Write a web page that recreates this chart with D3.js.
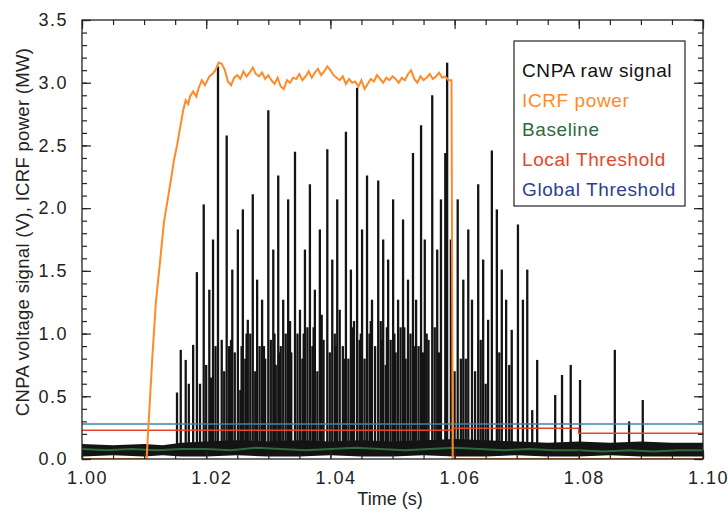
<!DOCTYPE html>
<html>
<head>
<meta charset="utf-8">
<script src="https://cdn.jsdelivr.net/npm/d3@7.9.0/dist/d3.min.js"></script>
<style>
  body { margin: 0; background: #fff; }
  svg text { font-family: "Liberation Sans", Arial, Helvetica, sans-serif; }
</style>
</head>
<body>
<svg id="chart" width="728" height="519"></svg>
<script>
// ICRF power (MW)
const icrfTime = [1.0000, 1.0104, 1.0113, 1.0119, 1.0126, 1.0132, 1.0138, 1.0143, 1.0148, 1.0153, 1.0158,
  1.0163, 1.0167, 1.0171, 1.0174, 1.0179, 1.0184, 1.0188, 1.0193, 1.0198,
  1.0200, 1.0205, 1.0210, 1.0215, 1.0220, 1.0225, 1.0230, 1.0235, 1.0240, 1.0245,
  1.0250, 1.0255, 1.0260, 1.0265, 1.0270, 1.0275, 1.0280, 1.0285, 1.0290, 1.0295,
  1.0300, 1.0305, 1.0310, 1.0315, 1.0320, 1.0325, 1.0330, 1.0335, 1.0340, 1.0345,
  1.0350, 1.0355, 1.0360, 1.0365, 1.0370, 1.0375, 1.0380, 1.0385, 1.0390, 1.0395,
  1.0400, 1.0405, 1.0410, 1.0415, 1.0420, 1.0425, 1.0430, 1.0435, 1.0440, 1.0445,
  1.0450, 1.0455, 1.0460, 1.0465, 1.0470, 1.0475, 1.0480, 1.0485, 1.0490, 1.0495,
  1.0500, 1.0505, 1.0510, 1.0515, 1.0520, 1.0525, 1.0530, 1.0535, 1.0540, 1.0545,
  1.0550, 1.0555, 1.0560, 1.0565, 1.0570, 1.0575, 1.0580, 1.0585, 1.0590, 1.0595,
  1.0597, 1.1000];
const icrfPower = [0.00, 0.00, 0.79, 1.25, 1.59, 1.89, 2.07, 2.22, 2.38, 2.50, 2.64,
  2.78, 2.86, 2.83, 2.89, 2.93, 2.89, 2.96, 3.02, 2.98,
  3.00, 3.05, 3.07, 3.10, 3.16, 3.15, 3.10, 3.01, 2.98, 3.04,
  3.06, 3.03, 3.09, 3.05, 3.08, 3.12, 3.07, 3.05, 3.08, 3.03,
  3.06, 3.02, 2.99, 3.04, 2.97, 2.95, 3.02, 3.00, 3.04, 3.03,
  3.07, 3.02, 3.05, 3.09, 3.04, 3.08, 3.11, 3.06, 3.09, 3.13,
  3.10, 3.06, 3.04, 3.02, 3.05, 2.99, 3.03, 3.00, 3.01, 2.97,
  3.02, 2.95, 2.99, 3.03, 3.01, 3.06, 3.03, 3.00, 3.04, 3.02,
  3.05, 3.03, 3.00, 3.04, 3.02, 3.07, 3.10, 3.03, 3.00, 3.05,
  3.02, 3.04, 3.07, 3.03, 3.05, 3.08, 3.04, 3.05, 3.02, 3.02,
  0.00, 0.00];

// CNPA raw signal: tall spikes (time, peak volts)
const spikeTime = [1.0153, 1.0159, 1.0167, 1.0179, 1.0185, 1.0190, 1.0196, 1.0200, 1.0205, 1.0211, 1.0215, 1.0219,
  1.0225, 1.0229, 1.0233, 1.0237, 1.0242, 1.0246, 1.0251, 1.0255, 1.0259, 1.0263, 1.0267, 1.0271,
  1.0275, 1.0279, 1.0282, 1.0286, 1.0290, 1.0295, 1.0300, 1.0304, 1.0308, 1.0312, 1.0316, 1.0320,
  1.0324, 1.0328, 1.0332, 1.0337, 1.0343, 1.0347, 1.0351, 1.0355, 1.0359, 1.0363, 1.0367, 1.0371,
  1.0375, 1.0379, 1.0383, 1.0389, 1.0395, 1.0399, 1.0403, 1.0407, 1.0411, 1.0415, 1.0420, 1.0425,
  1.0429, 1.0433, 1.0438, 1.0443, 1.0447, 1.0451, 1.0455, 1.0459, 1.0463, 1.0467, 1.0472, 1.0477,
  1.0481, 1.0485, 1.0489, 1.0493, 1.0497, 1.0501, 1.0505, 1.0509, 1.0513, 1.0517, 1.0521, 1.0525,
  1.0529, 1.0533, 1.0538, 1.0542, 1.0546, 1.0552, 1.0558, 1.0564, 1.0568, 1.0572, 1.0578, 1.0585,
  1.0588, 1.0594, 1.0605, 1.0610, 1.0614, 1.0622, 1.0628, 1.0633, 1.0638, 1.0646, 1.0650, 1.0654,
  1.0660, 1.0668, 1.0676, 1.0683, 1.0692, 1.0702, 1.0710, 1.0717, 1.0725, 1.0733, 1.0762, 1.0773,
  1.0787, 1.0802, 1.0858, 1.0881, 1.0903];
const spikePeak = [0.53, 0.87, 0.79, 0.91, 1.49, 0.60, 2.03, 0.75, 1.35, 1.75, 0.90, 3.13,
  0.95, 0.70, 2.58, 0.90, 1.51, 0.85, 1.83, 0.55, 1.99, 0.80, 1.11, 1.00,
  2.11, 0.70, 1.43, 0.90, 1.27, 0.80, 2.78, 0.95, 1.67, 0.75, 2.26, 0.90,
  1.27, 1.00, 2.07, 0.85, 2.45, 1.00, 1.19, 0.80, 1.67, 1.05, 2.19, 0.90,
  1.35, 0.70, 1.83, 0.95, 2.47, 0.85, 1.59, 1.00, 2.07, 1.19, 0.90, 2.61,
  0.80, 1.51, 1.10, 2.96, 0.95, 1.83, 0.80, 2.26, 1.00, 1.27, 0.90, 2.22,
  1.10, 1.75, 0.75, 1.59, 0.95, 2.07, 0.85, 1.27, 1.05, 1.91, 0.80, 1.43,
  1.00, 2.44, 1.27, 0.90, 2.66, 1.75, 0.95, 2.90, 1.05, 1.67, 2.07, 2.44,
  3.16, 1.75, 2.07, 0.80, 1.43, 1.83, 1.27, 0.70, 2.19, 1.59, 0.60, 1.11,
  2.46, 1.99, 1.51, 1.27, 1.03, 1.87, 1.27, 1.51, 0.39, 0.79, 0.51, 0.67,
  0.75, 0.63, 0.87, 0.30, 0.47];

// CNPA raw signal: smaller spikes filling the dense part
const smallSpikeTime = [1.0172, 1.0208, 1.0240, 1.0257, 1.0265, 1.0293, 1.0310, 1.0318, 1.0335, 1.0357,
  1.0373, 1.0386, 1.0409, 1.0423, 1.0436, 1.0449, 1.0465, 1.0483, 1.0491, 1.0503,
  1.0519, 1.0536, 1.0549, 1.0555, 1.0575, 1.0600, 1.0618, 1.0642, 1.0672, 1.0688];
const smallSpikePeak = [0.60, 0.65, 0.95, 0.90, 1.00, 0.90, 1.00, 0.85, 1.10, 1.00,
  1.05, 1.15, 0.90, 0.80, 1.05, 1.00, 1.10, 0.95, 1.05, 1.00,
  1.05, 0.90, 0.85, 1.00, 0.85, 0.70, 0.80, 0.95, 0.85, 0.75];

// CNPA noise floor envelope (volts)
const noiseTime = [1.000, 1.005, 1.010, 1.013, 1.016, 1.020, 1.025, 1.030, 1.035, 1.040, 1.045,
  1.050, 1.055, 1.060, 1.065, 1.070, 1.075, 1.080, 1.085, 1.090, 1.095, 1.100];
const noiseTop = [0.12, 0.11, 0.12, 0.11, 0.13, 0.14, 0.15, 0.14, 0.15, 0.14, 0.15,
  0.14, 0.15, 0.16, 0.15, 0.14, 0.13, 0.14, 0.13, 0.14, 0.13, 0.13];
const noiseBottom = [0.02, 0.03, 0.02, 0.03, 0.02, 0.02, 0.03, 0.02, 0.02, 0.03, 0.02,
  0.02, 0.03, 0.02, 0.02, 0.03, 0.02, 0.02, 0.03, 0.02, 0.02, 0.02];

// Baseline (green)
const baseTime = [1.000, 1.004, 1.008, 1.012, 1.016, 1.020, 1.024, 1.028, 1.032, 1.036, 1.040, 1.044,
  1.048, 1.052, 1.056, 1.060, 1.064, 1.068, 1.072, 1.076, 1.080, 1.084, 1.088, 1.092, 1.096, 1.100];
const baseValue = [0.08, 0.07, 0.08, 0.07, 0.08, 0.08, 0.07, 0.09, 0.08, 0.07, 0.08, 0.09,
  0.08, 0.07, 0.08, 0.09, 0.08, 0.07, 0.08, 0.07, 0.07, 0.06, 0.07, 0.06, 0.07, 0.07];

// thresholds
const localTime = [1.000, 1.0597, 1.0597, 1.080, 1.080, 1.100];
const localValue = [0.23, 0.23, 0.245, 0.245, 0.205, 0.205];
const globalLevel = 0.28;

const legendLabels = ['CNPA raw signal', 'ICRF power', 'Baseline', 'Local Threshold', 'Global Threshold'];
const legendColors = ['#111111', '#ff8a2a', '#2e6b3c', '#e8442a', '#2c3f8f'];

const W = 728, H = 519;
const margin = { top: 20, right: 25, bottom: 60, left: 82 };
const svg = d3.select('#chart');
svg.append('rect').attr('width', W).attr('height', H).attr('fill', '#fff');

const x = d3.scaleLinear().domain([1.0, 1.1]).range([margin.left, W - margin.right]);
const y = d3.scaleLinear().domain([0, 3.5]).range([H - margin.bottom, margin.top]);

svg.append('clipPath').attr('id', 'plot').append('rect')
  .attr('x', x(1.0)).attr('y', y(3.5))
  .attr('width', x(1.1) - x(1.0)).attr('height', y(0) - y(3.5));
const g = svg.append('g').attr('clip-path', 'url(#plot)');

// noise band
g.append('path')
  .datum(noiseTime.map((t, i) => [t, noiseBottom[i], noiseTop[i]]))
  .attr('fill', '#141414')
  .attr('d', d3.area().x(d => x(d[0])).y0(d => y(d[1])).y1(d => y(d[2])));

// spikes: vertical bars from the noise floor
const allSpikes = spikeTime.map((t, i) => [t, spikePeak[i]])
  .concat(smallSpikeTime.map((t, i) => [t, smallSpikePeak[i]]));
g.append('g').attr('stroke', '#141414')
  .selectAll('line')
  .data(allSpikes)
  .join('line')
  .attr('stroke-width', 2.3)
  .attr('x1', d => x(d[0])).attr('x2', d => x(d[0]))
  .attr('y1', y(0.05)).attr('y2', d => y(d[1]));

// baseline
g.append('path')
  .datum(baseTime.map((t, i) => [t, baseValue[i]]))
  .attr('fill', 'none').attr('stroke', '#2e6b3c').attr('stroke-width', 2)
  .attr('d', d3.line().x(d => x(d[0])).y(d => y(d[1])));

// local threshold
g.append('path')
  .datum(localTime.map((t, i) => [t, localValue[i]]))
  .attr('fill', 'none').attr('stroke', '#e8442a').attr('stroke-width', 1.5)
  .attr('d', d3.line().x(d => x(d[0])).y(d => y(d[1])));

// global threshold
g.append('line')
  .attr('x1', x(1.0)).attr('x2', x(1.1))
  .attr('y1', y(globalLevel)).attr('y2', y(globalLevel))
  .attr('stroke', '#3a86ad').attr('stroke-width', 1.5);

// ICRF power
g.append('path')
  .datum(icrfTime.map((t, i) => [t, icrfPower[i]]))
  .attr('fill', 'none').attr('stroke', '#ff8a2a').attr('stroke-width', 2)
  .attr('d', d3.line().x(d => x(d[0])).y(d => y(d[1])));

// axes: ticks point inward on all four sides
const xMajor = [1.00, 1.02, 1.04, 1.06, 1.08, 1.10];
const xMinor = d3.range(0, 21).map(i => 1 + i * 0.005);
const yMajor = [0, 0.5, 1.0, 1.5, 2.0, 2.5, 3.0, 3.5];
const yMinor = d3.range(0, 36).map(i => i * 0.1);

function styleAxis(sel) {
  sel.select('.domain').remove();
  sel.selectAll('line').attr('stroke', '#222').attr('stroke-width', 1.2);
  sel.selectAll('text').attr('font-size', 18).attr('fill', '#222').attr('letter-spacing', 1.5);
}

const axBottom = svg.append('g').attr('transform', `translate(0,${y(0)})`);
axBottom.append('g').call(d3.axisBottom(x).tickValues(xMinor).tickSize(-5).tickFormat('')).call(styleAxis);
axBottom.append('g').call(d3.axisBottom(x).tickValues(xMajor).tickSize(-9).tickPadding(12).tickFormat(d3.format('.2f'))).call(styleAxis)
  .selectAll('text').attr('dx', 5);

const axTop = svg.append('g').attr('transform', `translate(0,${y(3.5)})`);
axTop.append('g').call(d3.axisTop(x).tickValues(xMinor).tickSize(-5).tickFormat('')).call(styleAxis);
axTop.append('g').call(d3.axisTop(x).tickValues(xMajor).tickSize(-9).tickFormat('')).call(styleAxis);

const axLeft = svg.append('g').attr('transform', `translate(${x(1.0)},0)`);
axLeft.append('g').call(d3.axisLeft(y).tickValues(yMinor).tickSize(-5).tickFormat('')).call(styleAxis);
axLeft.append('g').call(d3.axisLeft(y).tickValues(yMajor).tickSize(-9).tickPadding(14).tickFormat(d3.format('.1f'))).call(styleAxis);

const axRight = svg.append('g').attr('transform', `translate(${x(1.1)},0)`);
axRight.append('g').call(d3.axisRight(y).tickValues(yMinor).tickSize(-5).tickFormat('')).call(styleAxis);
axRight.append('g').call(d3.axisRight(y).tickValues(yMajor).tickSize(-9).tickFormat('')).call(styleAxis);

// frame
svg.append('rect')
  .attr('x', x(1.0)).attr('y', y(3.5))
  .attr('width', x(1.1) - x(1.0)).attr('height', y(0) - y(3.5))
  .attr('fill', 'none').attr('stroke', '#222').attr('stroke-width', 1.3);

// axis titles
svg.append('text')
  .attr('x', 390).attr('y', 505)
  .attr('text-anchor', 'middle').attr('font-size', 18).attr('fill', '#222')
  .text('Time (s)');
svg.append('text')
  .attr('transform', 'translate(29,232) rotate(-90)')
  .attr('text-anchor', 'middle').attr('font-size', 18.5).attr('fill', '#222')
  .attr('letter-spacing', 0.3)
  .text('CNPA voltage signal (V), ICRF power (MW)');

// legend
const legend = svg.append('g');
legend.append('rect')
  .attr('x', 514).attr('y', 41).attr('width', 171).attr('height', 165)
  .attr('fill', '#fff').attr('stroke', '#222').attr('stroke-width', 1.2);
legendLabels.forEach((label, i) => {
  legend.append('text')
    .attr('x', 522).attr('y', 77 + i * 29.7)
    .attr('font-size', 19).attr('fill', legendColors[i])
    .attr('letter-spacing', 0.6)
    .text(label);
});
</script>
</body>
</html>
